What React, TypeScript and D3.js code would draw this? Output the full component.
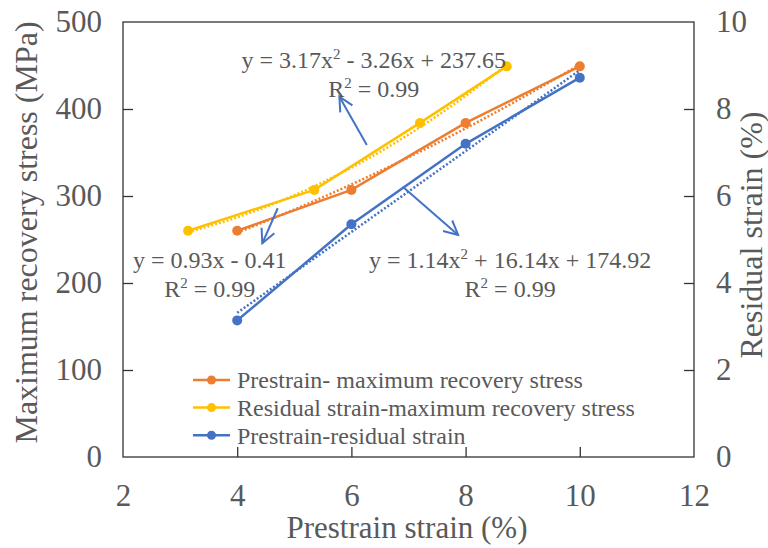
import { useEffect, useRef } from 'react'
import * as d3 from 'd3'

// data
const prestrain = [4, 6, 8, 10]
const residualStrain = [3.14, 5.35, 7.2, 8.72]
const recoveryStress = [260, 307, 384, 449]

const xTicks = [2, 4, 6, 8, 10, 12]
const stressTicks = [0, 100, 200, 300, 400, 500]
const strainTicks = [0, 2, 4, 6, 8, 10]

const seriesNames = [
  'Prestrain- maximum recovery stress',
  'Residual strain-maximum recovery stress',
  'Prestrain-residual strain',
]
const seriesColors = ['#ED7D31', '#FFC000', '#4472C4']

// trend equation labels: [x, stress] anchor (data units), text pieces
const eqLabels = [
  { x: 6.39, y: 446.8, parts: ['y = 3.17x', '2', ' - 3.26x + 237.65'] },
  { x: 6.39, y: 414.1, parts: ['R', '2', ' = 0.99'] },
  { x: 3.52, y: 216.9, parts: ['y = 0.93x - 0.41'] },
  { x: 3.52, y: 184.3, parts: ['R', '2', ' = 0.99'] },
  { x: 8.78, y: 216.9, parts: ['y = 1.14x', '2', ' + 16.14x + 174.92'] },
  { x: 8.78, y: 184.3, parts: ['R', '2', ' = 0.99'] },
]
// arrows [x0, s0, x1, s1] in data units (tip last)
const arrows = [
  [6.27, 358.6, 5.79, 414.1],
  [4.71, 285.9, 4.44, 245.6],
  [6.9, 310.7, 7.87, 255.2],
]

// least squares polynomial fit (like Excel trendline)
function polyfit(xs: number[], ys: number[], deg: number) {
  const n = deg + 1
  const A = Array.from({ length: n }, () => new Array(n + 1).fill(0))
  for (let r = 0; r < n; r++) {
    for (let c = 0; c < n; c++) A[r][c] = d3.sum(xs, (x) => Math.pow(x, r + c))
    A[r][n] = d3.sum(xs, (x, i) => ys[i] * Math.pow(x, r))
  }
  for (let i = 0; i < n; i++) {
    for (let k = i + 1; k < n; k++) {
      const f = A[k][i] / A[i][i]
      for (let j = i; j <= n; j++) A[k][j] -= f * A[i][j]
    }
  }
  const coef = new Array(n).fill(0)
  for (let i = n - 1; i >= 0; i--) {
    let s = A[i][n]
    for (let j = i + 1; j < n; j++) s -= A[i][j] * coef[j]
    coef[i] = s / A[i][i]
  }
  return (x: number) => coef.reduce((acc, c, i) => acc + c * Math.pow(x, i), 0)
}

const FONT = '"Liberation Serif", "Times New Roman", serif'
const TEXT = '#595959'

export default function App() {
  const ref = useRef<SVGSVGElement>(null)

  useEffect(() => {
    const width = 768
    const height = 548
    const plot = { left: 123, right: 694, top: 22, bottom: 457 }

    const x = d3.scaleLinear().domain([2, 12]).range([plot.left, plot.right])
    const yL = d3.scaleLinear().domain([0, 500]).range([plot.bottom, plot.top])
    const yR = d3.scaleLinear().domain([0, 10]).range([plot.bottom, plot.top])

    const svg = d3.select(ref.current)
    svg.selectAll('*').remove()
    svg.attr('width', width).attr('height', height).attr('viewBox', [0, 0, width, height])

    svg.append('rect').attr('width', width).attr('height', height).attr('fill', '#fff')

    const defs = svg.append('defs')
    defs.append('marker')
      .attr('id', 'arrow')
      .attr('viewBox', '-16 -9 18 18')
      .attr('refX', 0).attr('refY', 0)
      .attr('markerWidth', 18).attr('markerHeight', 18)
      .attr('markerUnits', 'userSpaceOnUse')
      .attr('orient', 'auto')
      .append('path')
      .attr('d', 'M-14,-7L0,0L-14,7')
      .attr('fill', 'none')
      .attr('stroke', '#4472C4')
      .attr('stroke-width', 2)

    // axes (ticks pointing inward)
    const styleAxis = (g: any) => {
      g.select('.domain').remove()
      g.selectAll('line').attr('stroke', '#333').attr('stroke-width', 1.3)
      g.selectAll('text').attr('fill', TEXT).attr('font-family', FONT).attr('font-size', 31)
    }
    svg.append('g')
      .attr('transform', `translate(0,${plot.bottom})`)
      .call(d3.axisBottom(x).tickValues(xTicks).tickSize(-10).tickPadding(27).tickFormat(d3.format('d')))
      .call(styleAxis)
      .call((g) => g.selectAll('.tick line').filter((d: any) => d === 2 || d === 12).remove())
    svg.append('g')
      .attr('transform', `translate(${plot.left},0)`)
      .call(d3.axisLeft(yL).tickValues(stressTicks).tickSize(-10).tickPadding(21))
      .call(styleAxis)
      .call((g) => g.selectAll('.tick line').filter((d: any) => d === 0 || d === 500).remove())
    svg.append('g')
      .attr('transform', `translate(${plot.right},0)`)
      .call(d3.axisRight(yR).tickValues(strainTicks).tickSize(-10).tickPadding(22))
      .call(styleAxis)
      .call((g) => g.selectAll('.tick line').filter((d: any) => d === 0 || d === 10).remove())

    // plot frame
    svg.append('rect')
      .attr('x', plot.left).attr('y', plot.top)
      .attr('width', plot.right - plot.left).attr('height', plot.bottom - plot.top)
      .attr('fill', 'none').attr('stroke', '#333').attr('stroke-width', 1.3)

    // axis titles
    svg.append('text')
      .attr('transform', 'translate(37,232.5) rotate(-90)')
      .attr('text-anchor', 'middle').attr('font-family', FONT).attr('font-size', 32).attr('fill', TEXT)
      .text('Maximum recovery stress (MPa)')
    svg.append('text')
      .attr('transform', 'translate(762,235) rotate(-90)')
      .attr('text-anchor', 'middle').attr('font-family', FONT).attr('font-size', 32).attr('fill', TEXT)
      .text('Residual strain (%)')
    svg.append('text')
      .attr('x', 407).attr('y', 538)
      .attr('text-anchor', 'middle').attr('font-family', FONT).attr('font-size', 31).attr('fill', TEXT)
      .text('Prestrain strain (%)')

    // series
    const series = [
      { xs: prestrain, ys: recoveryStress, y: yL, deg: 2 },
      { xs: residualStrain, ys: recoveryStress, y: yL, deg: 2 },
      { xs: prestrain, ys: residualStrain, y: yR, deg: 1 },
    ]

    series.forEach((s, i) => {
      const pts = s.xs.map((v, k) => [v, s.ys[k]] as [number, number])
      const line = d3.line<[number, number]>().x((d) => x(d[0])).y((d) => s.y(d[1]))
      svg.append('path')
        .attr('d', line(pts))
        .attr('fill', 'none').attr('stroke', seriesColors[i]).attr('stroke-width', 2.5)

      // trendline, fitted from the points
      const fit = polyfit(s.xs, s.ys, s.deg)
      const [lo, hi] = d3.extent(s.xs) as [number, number]
      const trend = d3.range(0, 41).map((k) => {
        const v = lo + ((hi - lo) * k) / 40
        return [v, fit(v)] as [number, number]
      })
      svg.append('path')
        .attr('d', line(trend))
        .attr('fill', 'none').attr('stroke', seriesColors[i]).attr('stroke-width', 2.5)
        .attr('stroke-dasharray', '2 2')

      svg.append('g').selectAll('circle').data(pts).join('circle')
        .attr('cx', (d) => x(d[0])).attr('cy', (d) => s.y(d[1])).attr('r', 5)
        .attr('fill', seriesColors[i])
    })

    // arrows
    svg.append('g').selectAll('line').data(arrows).join('line')
      .attr('x1', (d) => x(d[0])).attr('y1', (d) => yL(d[1]))
      .attr('x2', (d) => x(d[2])).attr('y2', (d) => yL(d[3]))
      .attr('stroke', '#4472C4').attr('stroke-width', 2)
      .attr('marker-end', 'url(#arrow)')

    // equation labels
    eqLabels.forEach((lab) => {
      const t = svg.append('text')
        .attr('x', x(lab.x)).attr('y', yL(lab.y))
        .attr('text-anchor', 'middle').attr('font-family', FONT).attr('font-size', 24).attr('fill', TEXT)
      lab.parts.forEach((p, k) => {
        const sup = k === 1
        const ts = t.append('tspan').text(p)
        if (sup) ts.attr('font-size', 15).attr('dy', -9)
        else if (k === 2) ts.attr('dy', 9)
      })
    })

    // legend
    const legend = svg.append('g').attr('transform', 'translate(193,380)')
    seriesNames.forEach((name, i) => {
      const row = legend.append('g').attr('transform', `translate(0,${i * 27.6})`)
      row.append('line').attr('x1', 0).attr('x2', 37).attr('stroke', seriesColors[i]).attr('stroke-width', 2.5)
      row.append('circle').attr('cx', 18.5).attr('r', 4.5).attr('fill', seriesColors[i])
      row.append('text')
        .attr('x', 44).attr('dy', '0.35em')
        .attr('font-family', FONT).attr('font-size', 24).attr('fill', TEXT)
        .text(name)
    })
  }, [])

  return (
    <svg ref={ref} style={{ position: 'absolute', left: 0, top: 0, display: 'block' }} />
  )
}
